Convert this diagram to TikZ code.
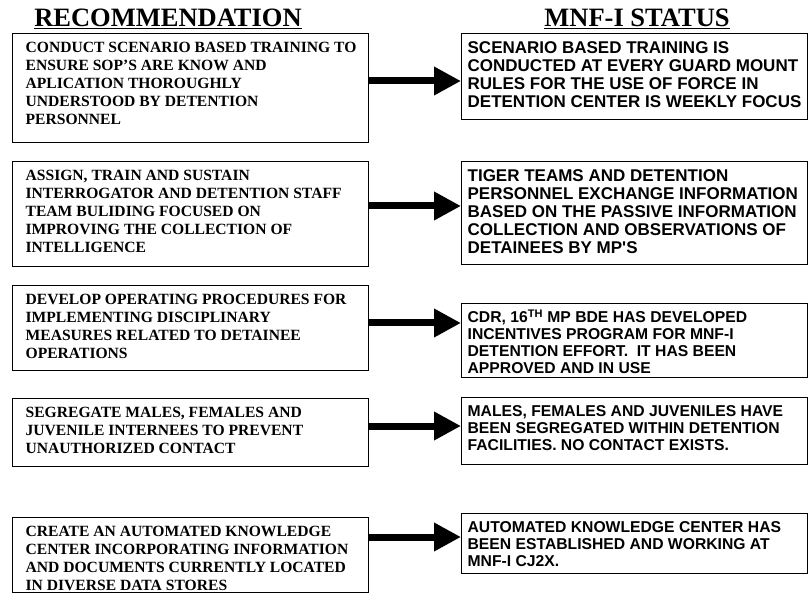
\documentclass[tikz,border=0pt]{standalone}
\usepackage{fontspec}
\setmainfont{Liberation Serif}
\newfontfamily\arialfont{Liberation Sans}
\usetikzlibrary{arrows.meta}

% Top-aligned box bodies: height, text
\newcommand{\recbody}[2]{\parbox[t][#1][t]{356pt}{\vspace*{8.5pt}\leftskip=13pt\rightskip=0pt plus 1fil\parindent=0pt\relax #2}}
\newcommand{\statbody}[2]{\parbox[t][#1][t]{346pt}{\vspace*{8pt}\leftskip=6pt\rightskip=0pt plus 1fil\parindent=0pt\relax #2}}

\begin{document}
\begin{tikzpicture}[
  x=1pt,
  y=-1pt,
  heading/.style={anchor=base,inner sep=0pt,font=\fontsize{26.5}{30}\selectfont\bfseries},
  recbox/.style={draw=black,line width=1.3pt,anchor=north west,inner sep=0pt,
    font=\fontsize{15.6}{18}\selectfont\bfseries},
  statbox/.style={draw=black,line width=1.3pt,anchor=north west,inner sep=0pt,
    font=\arialfont\fontsize{17}{18}\selectfont\bfseries},
  smallstat/.style={statbox,font=\arialfont\fontsize{15.7}{17}\selectfont\bfseries},
  bigarrow/.style={draw=black,line width=7pt,-{Triangle[length=27pt,width=27pt]}}
]
  \useasboundingbox (0,0) rectangle (808,593);

  % Column headings
  \node[heading] (rechead) at (168,27) {\underline{RECOMMENDATION}};
  \node[heading] (stathead) at (637,27) {\underline{MNF-I STATUS}};

  % Recommendations
  \node[recbox] (rec1) at (12,33) {\recbody{109pt}{CONDUCT SCENARIO BASED TRAINING TO\\
    ENSURE SOP'S ARE KNOW AND\\ APLICATION THOROUGHLY\\ UNDERSTOOD BY DETENTION\\ PERSONNEL}};
  \node[recbox] (rec2) at (12,161) {\recbody{105pt}{ASSIGN, TRAIN AND SUSTAIN\\
    INTERROGATOR AND DETENTION STAFF\\ TEAM BULIDING FOCUSED ON\\ IMPROVING THE COLLECTION OF\\ INTELLIGENCE}};
  \node[recbox] (rec3) at (12,285) {\recbody{85pt}{DEVELOP OPERATING PROCEDURES FOR\\
    IMPLEMENTING DISCIPLINARY\\ MEASURES RELATED TO DETAINEE\\ OPERATIONS}};
  \node[recbox] (rec4) at (12,398) {\recbody{68pt}{SEGREGATE MALES, FEMALES AND\\
    JUVENILE INTERNEES TO PREVENT\\ UNAUTHORIZED CONTACT}};
  \node[recbox] (rec5) at (12,517) {\recbody{75pt}{CREATE AN AUTOMATED KNOWLEDGE\\
    CENTER INCORPORATING INFORMATION\\ AND DOCUMENTS CURRENTLY LOCATED\\ IN DIVERSE DATA STORES}};

  % Status
  \node[statbox] (stat1) at (461,33) {\statbody{86pt}{SCENARIO BASED TRAINING IS\\
    CONDUCTED AT EVERY GUARD MOUNT\\ RULES FOR THE USE OF FORCE IN\\ DETENTION CENTER IS WEEKLY FOCUS}};
  \node[statbox] (stat2) at (461,161) {\statbody{103pt}{TIGER TEAMS AND DETENTION\\
    PERSONNEL EXCHANGE INFORMATION\\ BASED ON THE PASSIVE INFORMATION\\ COLLECTION AND OBSERVATIONS OF\\ DETAINEES BY MP'S}};
  \node[smallstat] (stat3) at (461,303) {\statbody{74pt}{CDR, 16\smash{\textsuperscript{TH}} MP BDE HAS DEVELOPED\\
    INCENTIVES PROGRAM FOR MNF-I\\ DETENTION EFFORT.\ \ IT HAS BEEN\\ APPROVED AND IN USE}};
  \node[smallstat] (stat4) at (461,397) {\statbody{67pt}{MALES, FEMALES AND JUVENILES HAVE\\
    BEEN SEGREGATED WITHIN DETENTION\\ FACILITIES. NO CONTACT EXISTS.}};
  \node[smallstat] (stat5) at (461,513) {\statbody{60pt}{AUTOMATED KNOWLEDGE CENTER HAS\\
    BEEN ESTABLISHED AND WORKING AT\\ MNF-I CJ2X.}};

  % Arrow heights
  \coordinate (lvl1) at (0,81);
  \coordinate (lvl2) at (0,206);
  \coordinate (lvl3) at (0,323);
  \coordinate (lvl4) at (0,426);
  \coordinate (lvl5) at (0,537);

  \foreach \i in {1,...,5} {
    \draw[bigarrow] (rec\i.east |- lvl\i) -- (stat\i.west |- lvl\i);
  }
\end{tikzpicture}
\end{document}
